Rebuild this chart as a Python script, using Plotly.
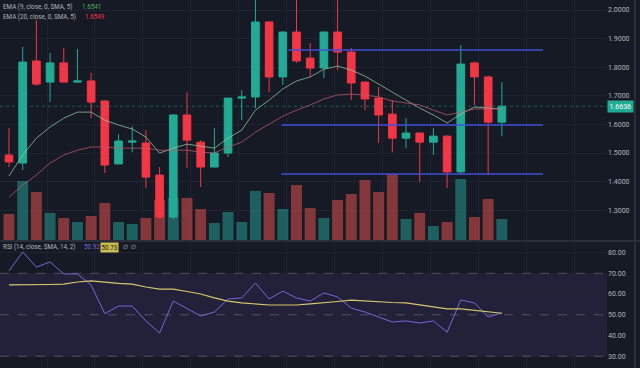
import plotly.graph_objects as go

# ---------------- data ----------------
bars = list(range(1, 38))
opens = [1.493, 1.465, 1.822, 1.748, 1.815, 1.748, 1.752, 1.682, 1.462, 1.538,
         1.535, 1.423, 1.276, 1.633, 1.538, 1.451, 1.500, 1.692, 1.696, 1.958,
         1.766, 1.923, 1.832, 1.797, 1.923, 1.853, 1.748, 1.692, 1.636, 1.552,
         1.570, 1.538, 1.559, 1.434, 1.815, 1.766, 1.608]
highs = [1.587, 1.871, 1.965, 1.850, 1.867, 1.864, 1.780, 1.685, 1.566, 1.594,
         1.580, 1.451, 1.636, 1.713, 1.545, 1.587, 1.692, 1.720, 2.060, 1.960,
         1.925, 2.060, 1.885, 1.925, 2.060, 1.867, 1.750, 1.731, 1.685, 1.622,
         1.572, 1.587, 1.562, 1.878, 1.820, 1.770, 1.748]
lows = [1.451, 1.441, 1.734, 1.678, 1.745, 1.745, 1.622, 1.430, 1.462, 1.503,
        1.378, 1.269, 1.269, 1.448, 1.381, 1.451, 1.486, 1.615, 1.657, 1.713,
        1.738, 1.815, 1.766, 1.762, 1.790, 1.685, 1.650, 1.535, 1.503, 1.517,
        1.399, 1.493, 1.378, 1.423, 1.668, 1.423, 1.559]
closes = [1.469, 1.818, 1.741, 1.815, 1.748, 1.752, 1.678, 1.458, 1.542, 1.542,
          1.416, 1.276, 1.633, 1.545, 1.451, 1.500, 1.692, 1.696, 1.958, 1.766,
          1.923, 1.822, 1.797, 1.923, 1.853, 1.745, 1.689, 1.633, 1.552, 1.570,
          1.538, 1.559, 1.434, 1.811, 1.766, 1.608, 1.6636]
volumes = [26, 59, 48, 27, 22, 18, 24, 37, 18, 16,
           22, 40, 42, 42, 31, 17, 28, 18, 49, 47,
           31, 55, 32, 22, 40, 46, 60, 48, 66, 21,
           27, 14, 18, 61, 23, 41, 21]
ema9 = [1.420, 1.493, 1.552, 1.591, 1.622, 1.643, 1.643, 1.615, 1.598, 1.584,
        1.556, 1.500, 1.517, 1.531, 1.524, 1.517, 1.552, 1.580, 1.650, 1.685,
        1.724, 1.752, 1.766, 1.793, 1.804, 1.790, 1.769, 1.741, 1.710, 1.682,
        1.657, 1.633, 1.605, 1.636, 1.661, 1.657, 1.6541]
ema20 = [1.346, 1.388, 1.423, 1.465, 1.493, 1.510, 1.521, 1.521, 1.517, 1.517,
         1.517, 1.510, 1.510, 1.510, 1.503, 1.500, 1.521, 1.538, 1.573, 1.601,
         1.629, 1.650, 1.668, 1.689, 1.703, 1.706, 1.703, 1.696, 1.682, 1.675,
         1.668, 1.650, 1.633, 1.643, 1.654, 1.654, 1.6549]
rsi = [71.1, 80.3, 73.0, 75.5, 69.7, 69.7, 64.3, 50.5, 54.2, 54.2,
       47.0, 41.2, 56.6, 53.2, 49.4, 51.3, 57.6, 58.1, 65.3, 57.6,
       61.4, 58.1, 56.6, 60.5, 58.6, 53.2, 51.3, 48.9, 46.5, 47.0,
       46.0, 47.0, 41.6, 57.1, 55.7, 48.9, 50.92]
rsi_ma = [64.4, 64.4, 64.4, 64.6, 64.8, 65.8, 66.3, 65.6, 65.1, 64.8,
          63.4, 62.4, 62.4, 61.2, 60.0, 58.1, 56.6, 55.7, 55.2, 54.7,
          54.7, 54.7, 55.2, 55.7, 56.4, 57.1, 56.6, 56.1, 55.9, 55.7,
          54.7, 53.7, 52.8, 52.8, 52.0, 51.3, 50.73]
levels = [1.860, 1.598, 1.427]
level_starts = [21.4, 20.9, 20.9]
level_end = 40.0
price_ticks = [1.3, 1.4, 1.5, 1.6, 1.7, 1.8, 1.9, 2.0]
rsi_ticks = [30, 40, 50, 60, 70, 80]
rsi_bands = [30, 50, 70]
last_price = closes[-1]

# ---------------- style ----------------
W, H = 640, 368
PW = 607            # plot area width in px
BG = "#161a25"
UP = "#22ab94"
DOWN = "#f23645"
TXT = "#b2b5be"
GRID = "#1e2231"
FONT = "Roboto"
FS = 7
LFS = 6.3


def px(xp):
    return xp / PW


def py(yp):
    return 1 - yp / H


vol_colors = ["rgba(38,166,154,0.5)" if c >= o else "rgba(239,83,80,0.5)"
              for o, c in zip(opens, closes)]

fig = go.Figure()

fig.add_trace(go.Bar(x=bars, y=volumes, marker_color=vol_colors,
                     marker_line_width=0, xaxis="x", yaxis="y",
                     showlegend=False, hoverinfo="skip"))

fig.add_trace(go.Candlestick(
    x=bars, open=opens, high=highs, low=lows, close=closes,
    increasing=dict(line=dict(color=UP, width=1), fillcolor=UP),
    decreasing=dict(line=dict(color=DOWN, width=1), fillcolor=DOWN),
    whiskerwidth=0, xaxis="x", yaxis="y3", showlegend=False))

fig.add_trace(go.Scatter(x=bars, y=ema9, mode="lines",
                         line=dict(color="rgba(150,200,160,0.75)", width=1),
                         xaxis="x", yaxis="y3", showlegend=False))
fig.add_trace(go.Scatter(x=bars, y=ema20, mode="lines",
                         line=dict(color="rgba(190,90,105,0.75)", width=1),
                         xaxis="x", yaxis="y3", showlegend=False))

fig.add_trace(go.Scatter(x=bars, y=rsi, mode="lines",
                         line=dict(color="#7468d8", width=1),
                         xaxis="x2", yaxis="y2", showlegend=False))
fig.add_trace(go.Scatter(x=bars, y=rsi_ma, mode="lines",
                         line=dict(color="#d6c66e", width=1.2),
                         xaxis="x2", yaxis="y2", showlegend=False))

shapes = []
# RSI band
shapes.append(dict(type="rect", xref="paper", yref="y2", x0=0, x1=1,
                   y0=min(rsi_bands), y1=max(rsi_bands),
                   fillcolor="rgba(126,87,194,0.13)", line_width=0, layer="below"))
for b in rsi_bands:
    shapes.append(dict(type="line", xref="paper", yref="y2", x0=0, x1=1, y0=b, y1=b,
                       line=dict(color="rgba(120,123,134,0.55)", width=1, dash="dash")))
# horizontal levels
for lv, st in zip(levels, level_starts):
    shapes.append(dict(type="line", xref="x", yref="y3", x0=st, x1=level_end,
                       y0=lv, y1=lv, line=dict(color="#3f4fd8", width=1.5)))
# last price line
shapes.append(dict(type="line", xref="paper", yref="y3", x0=0, x1=1,
                   y0=last_price, y1=last_price,
                   line=dict(color="rgba(34,171,148,0.45)", width=1, dash="dot")))
# pane separator and right border
shapes.append(dict(type="line", xref="paper", yref="paper", x0=0, x1=px(W),
                   y0=py(241), y1=py(241), line=dict(color="#2a2e39", width=2)))
shapes.append(dict(type="line", xref="paper", yref="paper", x0=px(635), x1=px(635),
                   y0=0, y1=1, line=dict(color="#2a2e39", width=2)))


def label(x, y, text, color=TXT, size=LFS, **kw):
    d = dict(xref="paper", yref="paper", x=px(x), y=py(y), xanchor="left",
             yanchor="middle", showarrow=False, text=text,
             font=dict(size=size, color=color, family=FONT))
    d.update(kw)
    return d


ann = [
    label(1, 7, "EMA (9, close, 0, SMA, 5)"),
    label(80, 7, "%.4f" % ema9[-1], color="#4caf50"),
    label(1, 17.5, "EMA (20, close, 0, SMA, 5)"),
    label(83, 17.5, "%.4f" % ema20[-1], color="#f23645"),
    label(1, 247, "RSI (14, close, SMA, 14, 2)"),
    label(82, 247, "%.2f" % rsi[-1], color="#7468d8"),
    label(100, 247, "%.2f" % rsi_ma[-1], color="#1c1c10", bgcolor="#c9bd52", borderpad=0.5),
    label(121, 247, "∅  ∅"),
    dict(xref="paper", yref="y3", x=1, y=last_price, xanchor="left",
         yanchor="middle", showarrow=False,
         font=dict(size=FS, color="#ffffff", family=FONT),
         bgcolor=UP, borderpad=1.5, text="%.4f" % last_price),
]

x_range = [0.343, 44.68]
main_dom = [py(240), 1]
rsi_dom = [0, py(242)]

fig.update_layout(
    width=W, height=H,
    margin=dict(l=0, r=W - PW, t=0, b=0, pad=0),
    paper_bgcolor=BG, plot_bgcolor=BG,
    font=dict(family=FONT, size=FS, color=TXT),
    bargap=0.2, boxgap=0.2,
    showlegend=False, hovermode=False,
    shapes=shapes, annotations=ann,
    xaxis=dict(domain=[0, 1], range=x_range, anchor="y", showticklabels=False,
               showgrid=True, gridcolor=GRID, tick0=3.78, dtick=3.5, zeroline=False,
               rangeslider=dict(visible=False), showline=False),
    xaxis2=dict(domain=[0, 1], range=x_range, anchor="y2", matches="x",
                showticklabels=False, showgrid=True, gridcolor=GRID, tick0=3.78,
                dtick=3.5, zeroline=False, showline=False),
    yaxis=dict(domain=main_dom, range=[0, 240], visible=False, showgrid=False),
    yaxis3=dict(domain=main_dom, overlaying="y", anchor="x", side="right",
                range=[1.196, 2.035], tickvals=price_ticks, tickformat=".4f",
                showgrid=True, gridcolor=GRID, zeroline=False, ticks="",
                tickfont=dict(size=FS, color=TXT, family=FONT), showline=False),
    yaxis2=dict(domain=rsi_dom, anchor="x2", side="right", range=[24.3, 85.1],
                tickvals=rsi_ticks, tickformat=".2f", showgrid=True, gridcolor=GRID,
                zeroline=False, ticks="", tickfont=dict(size=FS, color=TXT, family=FONT),
                showline=False),
)

fig.write_html("out.html",
               config={"displayModeBar": False, "staticPlot": True},
               post_script="document.body.style.margin='0';"
                           "document.body.style.background='%s';" % BG)
